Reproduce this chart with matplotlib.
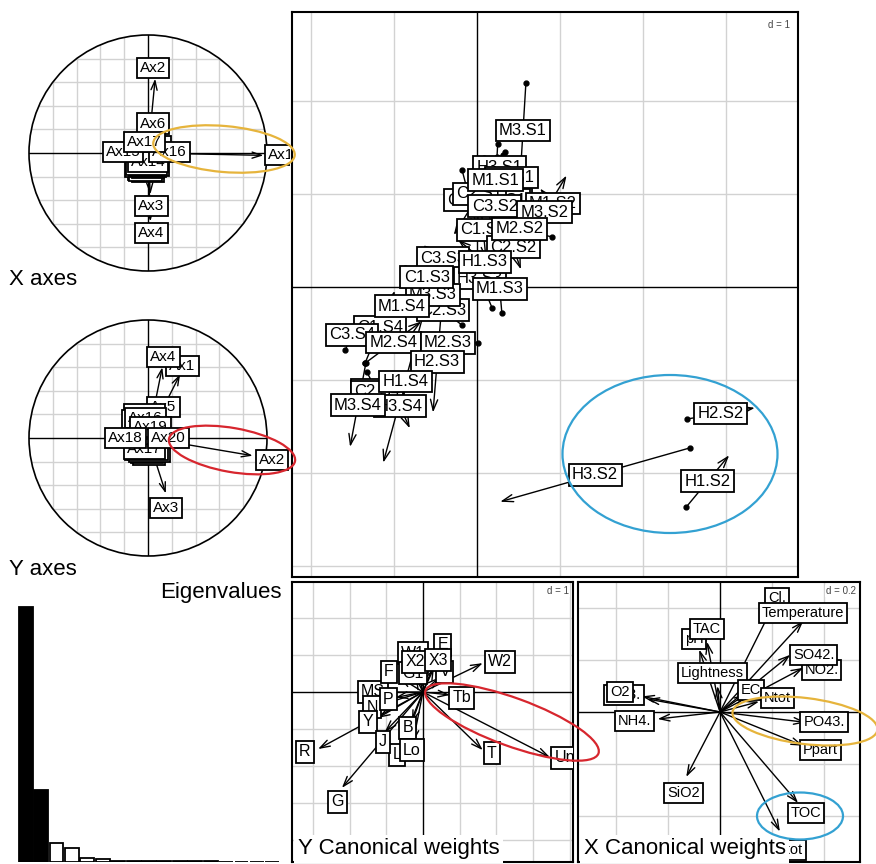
import matplotlib.pyplot as plt
from matplotlib.patches import Circle, Ellipse
import numpy as np

plt.rcParams['font.family'] = ['Liberation Sans', 'DejaVu Sans']

W, H = 876, 864

# ---------------- data ----------------
# main co-inertia plane (d = 1): dot = X side, arrow head = Y side
samples = ['H2.S4', 'C1.S1', 'C3.S1', 'H2.S1', 'H3.S1', 'M2.S1', 'H1.S1', 'C2.S1',
           'M1.S1', 'M3.S1', 'C1.S2', 'M1.S2', 'C3.S2', 'M3.S2', 'C2.S2', 'M2.S2',
           'C3.S3', 'H3.S3', 'H1.S3', 'C2.S3', 'M3.S3', 'C1.S3', 'M1.S3', 'C1.S4',
           'C2.S4', 'M1.S4', 'C3.S4', 'M2.S4', 'M2.S3', 'H2.S3', 'H1.S4', 'H3.S4',
           'M3.S4', 'H2.S2', 'H3.S2', 'H1.S2']
xs_start = [-1.17, -0.01, -0.18, 0.28, 0.08, 0.16, 0.31, 0.34, 0.25, 0.59, 0.04, 1.07,
            0.24, 0.55, 0.34, 0.90, -0.17, 0.18, 0.42, -0.18, -0.69, -0.87, 0.30, -1.35,
            -1.33, -1.05, -1.59, -1.35, 0.01, -0.43, -0.60, -1.05, -1.34, 2.53, 2.57, 2.52]
ys_start = [-1.00, 1.37, 1.26, 1.37, 1.39, 1.31, 1.42, 1.45, 1.54, 2.20, 0.94, 0.74,
            1.40, 0.41, 0.67, 0.54, 0.17, -0.22, 0.03, -0.41, 0.08, 0.20, -0.28, -0.82,
            -0.91, -0.38, -0.68, -0.82, -0.60, -0.26, -0.14, -1.04, -0.82, -1.42, -1.73, -2.37]
xs_end = [-1.22, 0.20, 0.01, 0.40, 0.47, 0.47, 0.53, -0.28, 0.20, 0.52, 0.11, 0.76,
          0.19, 1.08, 0.53, 0.13, -0.65, -0.11, -0.23, -0.64, -0.37, -0.34, 0.25, -0.99,
          -1.08, -0.76, -1.42, -0.67, -0.71, -0.53, -1.13, -0.81, -1.53, 3.35, 0.28, 3.04]
ys_end = [-1.22, 0.57, 0.61, 0.87, 1.19, 0.56, 0.94, 0.56, 0.76, 1.17, 0.29, 1.06,
          0.34, 1.20, 0.19, 0.71, 0.45, 0.41, 0.51, -0.09, -0.25, 0.01, 0.24, -0.04,
          -1.34, -0.03, -0.35, -0.37, -0.60, -1.35, -1.89, -1.52, -1.72, -1.30, -2.31, -1.81]

# X axes projected (correlation circle)
xax_names = ['Ax%d' % i for i in range(1, 18)]
xax_tip_x = [0.97, 0.06, 0.02, 0.02, -0.03, 0.02, 0.03, -0.02, 0.01, -0.01, 0.02, 0.00, 0.01, 0.00, -0.15, 0.12, -0.02]
xax_tip_y = [-0.02, 0.63, -0.35, -0.58, -0.10, 0.18, -0.08, -0.06, -0.05, 0.03, -0.03, -0.04, 0.02, -0.05, 0.00, 0.01, 0.06]
xax_lab_x = [1.12, 0.04, 0.03, 0.03, -0.03, 0.04, 0.00, -0.02, 0.00, -0.02, 0.01, -0.01, 0.02, 0.00, -0.21, 0.18, -0.03]
xax_lab_y = [-0.02, 0.72, -0.45, -0.68, -0.14, 0.25, -0.16, -0.15, -0.13, -0.12, -0.11, -0.10, 0.06, -0.08, 0.01, 0.01, 0.09]

# Y axes projected (correlation circle)
yax_names = ['Ax%d' % i for i in range(1, 18)] + ['Ax19', 'Ax18', 'Ax20']
yax_tip_x = [0.27, 0.88, 0.15, 0.12, 0.08, 0.02, 0.01, -0.02, 0.02, 0.00, -0.01, 0.01, 0.00, -0.02, -0.03, 0.01, -0.02, 0.01, -0.12, 0.11]
yax_tip_y = [0.54, -0.15, -0.47, 0.60, 0.20, -0.05, -0.06, -0.08, -0.04, 0.03, 0.05, -0.07, -0.05, 0.12, 0.08, 0.06, -0.05, 0.05, 0.00, 0.00]
yax_lab_x = [0.29, 1.04, 0.15, 0.13, 0.13, 0.00, 0.01, -0.01, 0.00, -0.02, -0.03, 0.01, 0.00, -0.03, -0.05, -0.02, -0.03, 0.02, -0.19, 0.17]
yax_lab_y = [0.61, -0.19, -0.59, 0.69, 0.26, -0.12, -0.14, -0.13, -0.11, -0.10, 0.16, -0.12, -0.10, 0.20, 0.15, 0.17, -0.09, 0.09, 0.00, 0.00]

# eigenvalues
eig = [2.55, 0.72, 0.19, 0.14, 0.04, 0.03, 0.012, 0.01, 0.01, 0.008, 0.008,
       0.006, 0.006, 0.005, 0.005, 0.004, 0.004]
n_black = 2

# Y canonical weights (d = 1)
yc_names = ['E', 'W1', 'G1', 'V', 'X2', 'X3', 'W2', 'Tb', 'T', 'Un', 'MS', 'N', 'P',
            'Y', 'F', 'B', 'L', 'Lo', 'J', 'R', 'G']
yc_tip_x = [0.40, -0.20, -0.20, 0.45, -0.15, 0.30, 1.63, 0.74, 1.63, 3.46, -1.10, -1.10, -0.75,
            -1.23, -0.65, -0.30, -0.60, -0.27, -1.04, -2.86, -2.21]
yc_tip_y = [1.00, 0.85, 0.40, 0.40, 0.60, 0.65, 0.78, -0.08, -1.57, -1.76, 0.00, -0.33, -0.15,
            -0.70, 0.40, -0.82, -1.45, -1.35, -1.08, -1.54, -2.59]
yc_lab_x = [0.54, -0.27, -0.27, 0.60, -0.22, 0.41, 2.10, 1.06, 1.88, 3.87, -1.36, -1.39, -0.95,
            -1.50, -0.93, -0.41, -0.71, -0.30, -1.09, -3.22, -2.32]
yc_lab_y = [1.27, 1.05, 0.51, 0.54, 0.81, 0.86, 0.81, -0.16, -1.65, -1.78, 0.00, -0.41, -0.19,
            -0.81, 0.54, -0.97, -1.70, -1.57, -1.35, -1.62, -2.97]

# X canonical weights (d = 0.2)
xc_names = ['NO3.', 'O2', 'NH4.', 'pH', 'TAC', 'Lightness', 'Cl.', 'Temperature', 'NO2.',
            'SO42.', 'EC', 'Ntot', 'PO43.', 'Ppart', 'SiO2', 'TOC', 'Ptot']
xc_tip_x = [-0.28, -0.30, -0.24, -0.08, -0.05, -0.01, 0.20, 0.32, 0.32, 0.27, 0.10, 0.15,
            0.33, 0.32, -0.13, 0.30, 0.23]
xc_tip_y = [0.05, 0.06, -0.027, 0.24, 0.27, 0.10, 0.40, 0.35, 0.17, 0.22, 0.07, 0.04,
            -0.04, -0.13, -0.25, -0.35, -0.46]
xc_lab_x = [-0.37, -0.385, -0.33, -0.10, -0.05, -0.03, 0.22, 0.32, 0.39, 0.36, 0.12, 0.22,
            0.40, 0.385, -0.14, 0.33, 0.27]
xc_lab_y = [0.065, 0.077, -0.035, 0.28, 0.32, 0.15, 0.44, 0.38, 0.16, 0.22, 0.085, 0.054,
            -0.04, -0.146, -0.31, -0.39, -0.53]

GRID = '#d2d2d2'

fig = plt.figure(figsize=(8.76, 8.64), dpi=100)


def panel(x0, y0, x1, y1, xlim, ylim, frame=True):
    ax = fig.add_axes([x0 / W, 1 - y1 / H, (x1 - x0) / W, (y1 - y0) / H])
    ax.set_xlim(*xlim)
    ax.set_ylim(*ylim)
    ax.set_xticks([])
    ax.set_yticks([])
    for s in ax.spines.values():
        s.set_linewidth(1.5)
        s.set_visible(frame)
    return ax


def grid(ax, gx, gy):
    for v in gx:
        ax.axvline(v, color=GRID, lw=1, zorder=0)
    for v in gy:
        ax.axhline(v, color=GRID, lw=1, zorder=0)
    ax.axvline(0, color='black', lw=1, zorder=1)
    ax.axhline(0, color='black', lw=1, zorder=1)


def arrow(ax, x0, y0, x1, y1, ms=12):
    ax.annotate('', xy=(x1, y1), xytext=(x0, y0),
                arrowprops=dict(arrowstyle='->,head_length=0.6,head_width=0.2',
                                lw=1, color='black', shrinkA=0, shrinkB=0,
                                mutation_scale=ms), zorder=2)


def label(ax, x, y, s, fs):
    ax.text(x, y, s, ha='center', va='center', fontsize=fs, zorder=5, clip_on=True,
            bbox=dict(boxstyle='square,pad=0.2', fc='white', ec='black', lw=1.3))


def dlab(ax, s):
    ax.text(0.985, 0.985, s, transform=ax.transAxes, ha='right', va='top',
            fontsize=7, color='#444444', zorder=6,
            bbox=dict(boxstyle='square,pad=0.1', fc='white', ec='none'))


def sub(ax, s, x=0.02, y=0.01):
    ax.text(x, y, s, transform=ax.transAxes, ha='left', va='bottom', fontsize=16,
            zorder=7, bbox=dict(boxstyle='square,pad=0.15', fc='white', ec='none'))


# ---------------- main panel ----------------
ax = panel(292, 12, 798, 577, (-2.23, 3.87), (-3.12, 2.96))
grid(ax, [-2, -1, 1, 2, 3], [-3, -2, -1, 1, 2])
for i in range(len(samples)):
    arrow(ax, xs_start[i], ys_start[i], xs_end[i], ys_end[i], ms=13)
ax.plot(xs_start, ys_start, 'o', color='black', ms=3.5, zorder=3)
for i, s in enumerate(samples):
    label(ax, (xs_start[i] + xs_end[i]) / 2, (ys_start[i] + ys_end[i]) / 2, s, 12)
dlab(ax, 'd = 1')


# ---------------- correlation circles ----------------
def corcircle(y0, y1, cy, names, tx, ty, lx, ly, title):
    ry = 118.0
    ax = panel(0, y0, 290, y1, ((0 - 148) / 119, (290 - 148) / 119),
               ((cy - y1) / ry, (cy - y0) / ry), frame=False)
    clip = Circle((0, 0), 1, transform=ax.transData)
    for g in np.arange(-0.8, 0.81, 0.2):
        c = 'black' if abs(g) < 1e-9 else GRID
        l1, = ax.plot([g, g], [-1.1, 1.1], color=c, lw=1, zorder=1 if c == 'black' else 0)
        l2, = ax.plot([-1.1, 1.1], [g, g], color=c, lw=1, zorder=1 if c == 'black' else 0)
        l1.set_clip_path(clip)
        l2.set_clip_path(clip)
    ax.add_patch(Circle((0, 0), 1, fill=False, ec='black', lw=1.2, zorder=2))
    for i in range(len(names)):
        arrow(ax, 0, 0, tx[i], ty[i], ms=11)
    for i, s in enumerate(names):
        label(ax, lx[i], ly[i], s, 11)
    sub(ax, title, x=0.03, y=0.0)
    return ax


corcircle(0, 290, 153, xax_names, xax_tip_x, xax_tip_y, xax_lab_x, xax_lab_y, 'X axes')
corcircle(290, 580, 438, yax_names, yax_tip_x, yax_tip_y, yax_lab_x, yax_lab_y, 'Y axes')

# ---------------- eigenvalues ----------------
ax = panel(18, 600, 280, 862, (0, len(eig)), (0, 2.62), frame=False)
cols = ['black' if i < n_black else 'white' for i in range(len(eig))]
ax.bar(np.arange(len(eig)) + 0.5, eig, width=0.9, color=cols, edgecolor='black', lw=1.3)
fig.text(282 / W, 1 - 582 / H, 'Eigenvalues', ha='right', va='top', fontsize=16)

# ---------------- Y canonical weights ----------------
ax = panel(292, 582, 573, 862, (-3.57, 4.09), (-4.59, 2.97))
grid(ax, [-3, -2, -1, 1, 2, 3, 4], [-4, -3, -2, -1, 1, 2])
for i in range(len(yc_names)):
    arrow(ax, 0, 0, yc_tip_x[i], yc_tip_y[i], ms=12)
for i, s in enumerate(yc_names):
    label(ax, yc_lab_x[i], yc_lab_y[i], s, 11.5)
dlab(ax, 'd = 1')
sub(ax, 'Y Canonical weights')

# ---------------- X canonical weights ----------------
ax = panel(578, 582, 860, 862, (-0.546, 0.538), (-0.577, 0.5))
grid(ax, [-0.4, -0.2, 0.2, 0.4], [-0.4, -0.2, 0.2, 0.4])
for i in range(len(xc_names)):
    arrow(ax, 0, 0, xc_tip_x[i], xc_tip_y[i], ms=12)
for i, s in enumerate(xc_names):
    label(ax, xc_lab_x[i], xc_lab_y[i], s, 10.5)
dlab(ax, 'd = 0.2')
sub(ax, 'X Canonical weights')

# ---------------- highlight ellipses (pixel overlay) ----------------
ov = fig.add_axes([0, 0, 1, 1], zorder=10)
ov.set_xlim(0, W)
ov.set_ylim(H, 0)
ov.axis('off')
ov.patch.set_alpha(0)
highlights = [((224, 149), 142, 46, 5, '#E6B43C'),
              ((805, 721), 146, 46, 7, '#E6B43C'),
              ((232, 450), 128, 44, 10, '#D7262E'),
              ((512, 722), 184, 48, 20, '#D7262E'),
              ((670, 454), 215, 158, 0, '#33A1D2'),
              ((800, 816), 86, 47, 0, '#33A1D2')]
for c, w, h, a, col in highlights:
    ov.add_patch(Ellipse(c, w, h, angle=a, fill=False, ec=col, lw=1.6))

fig.savefig('out.png', dpi=100, facecolor='white')
